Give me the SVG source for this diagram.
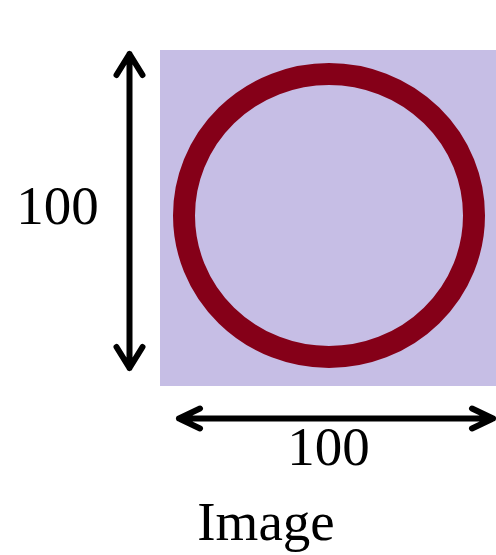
<svg xmlns="http://www.w3.org/2000/svg" width="496" height="555" viewBox="0 0 496 555">
<style>
.lbl{font-family:"Liberation Serif","Times New Roman",serif;font-size:55px;fill:#000;text-anchor:middle}
.arr{fill:none;stroke:#000;stroke-width:6;stroke-linecap:round;stroke-linejoin:round}
</style>
<rect width="496" height="555" fill="#fff"/>
<g id="image">
<rect x="160" y="50" width="336" height="336" fill="#C6BEE5"/>
<ellipse cx="329" cy="215.5" rx="145" ry="141.5" fill="none" stroke="#850018" stroke-width="22"/>
</g>
<g id="connectors">
<path class="arr" d="M129.5 54V368M116.5 75L129.5 54L142.5 75M116.5 347L129.5 368L142.5 347"/>
<path class="arr" d="M179 418.5H493M200 408.5L179 418.5L200 428.5M472 408.5L493 418.5L472 428.5"/>
</g>
<g id="labels">
<text class="lbl" x="57.5" y="224">100</text>
<text class="lbl" x="328.5" y="465">100</text>
<text class="lbl" x="266" y="540">Image</text>
</g>
</svg>
